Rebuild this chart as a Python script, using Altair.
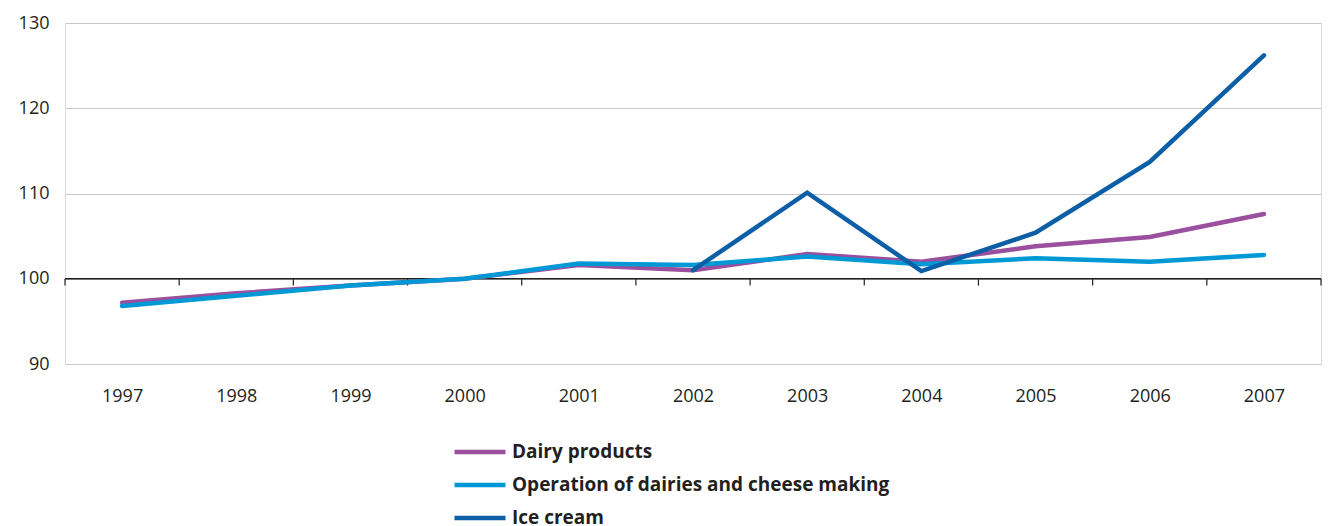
import altair as alt
import pandas as pd

# Index values, 2000 = 100
years = list(range(1997, 2008))
dairy_products = [97.2, 98.3, 99.2, 100.0, 101.6, 101.0, 102.9, 102.0, 103.8, 104.9, 107.6]
dairies_cheese = [96.8, 98.0, 99.2, 100.0, 101.8, 101.6, 102.6, 101.7, 102.4, 102.0, 102.8]
ice_cream_years = [2002, 2003, 2004, 2005, 2006, 2007]
ice_cream = [101.0, 110.1, 100.9, 105.4, 113.7, 126.2]

series_names = ["Dairy products", "Operation of dairies and cheese making", "Ice cream"]
series_colors = ["#9B4F9F", "#0099D6", "#0C5FA6"]

# Category boundaries for the tick marks on the 100 line
boundaries = [y - 0.5 for y in years] + [years[-1] + 0.5]

rows = []
for y, v in zip(years, dairy_products):
    rows.append({"year": y, "value": v, "series": series_names[0]})
for y, v in zip(years, dairies_cheese):
    rows.append({"year": y, "value": v, "series": series_names[1]})
for y, v in zip(ice_cream_years, ice_cream):
    rows.append({"year": y, "value": v, "series": series_names[2]})
df = pd.DataFrame(rows)

FONT = "Open Sans"
x_scale = alt.Scale(domain=[boundaries[0], boundaries[-1]], nice=False, zero=False)
y_scale = alt.Scale(domain=[90, 130], nice=False, zero=False)

# Wide horizontal stroke used as the legend swatch, kept short in row height
swatch_path = "M-3,0H3"

lines = alt.Chart(df).mark_line(strokeWidth=4.5, strokeCap="round", strokeJoin="miter").encode(
    x=alt.X("year:Q", scale=x_scale,
            axis=alt.Axis(values=years, format="d", title=None, grid=False, domain=False,
                          ticks=False, labelPadding=23, labelFontSize=18, labelColor="#231F20",
                          labelFont=FONT)),
    y=alt.Y("value:Q", scale=y_scale,
            axis=alt.Axis(values=[90, 100, 110, 120, 130], title=None, domain=False, ticks=False,
                          gridColor="#C8C8C8", gridWidth=1, labelPadding=16, labelFontSize=18,
                          labelColor="#231F20", labelFont=FONT)),
    color=alt.Color("series:N",
                    scale=alt.Scale(domain=series_names, range=series_colors),
                    sort=series_names,
                    legend=alt.Legend(title=None, orient="none", legendX=404, legendY=418,
                                      symbolType=swatch_path, symbolSize=289, symbolStrokeWidth=4.5,
                                      labelFontSize=19, labelFontWeight="bold", labelFont=FONT,
                                      labelColor="#231F20", labelOffset=21, rowPadding=12,
                                      labelLimit=1000)),
    order=alt.Order("year:Q"),
)

base_line = alt.Chart(pd.DataFrame({"x": [boundaries[0]], "x2": [boundaries[-1]], "y": [100]})).mark_rule(
    color="#231F20", strokeWidth=1.5
).encode(
    x=alt.X("x:Q", scale=x_scale), x2="x2:Q", y=alt.Y("y:Q", scale=y_scale)
)

tick_marks = alt.Chart(pd.DataFrame({"x": boundaries, "y": [100] * len(boundaries), "y2": [99.2] * len(boundaries)})).mark_rule(
    color="#231F20", strokeWidth=1.2
).encode(
    x=alt.X("x:Q", scale=x_scale), y=alt.Y("y:Q", scale=y_scale), y2="y2:Q"
)

chart = alt.layer(base_line, tick_marks, lines).properties(
    width=1256, height=341,
    autosize=alt.AutoSizeParams(type="none"),
    padding={"left": 65, "top": 23, "right": 9, "bottom": 162},
).configure_view(stroke=None).configure(background="white")

chart.save("out.html", embed_options={"renderer": "svg", "actions": False})
